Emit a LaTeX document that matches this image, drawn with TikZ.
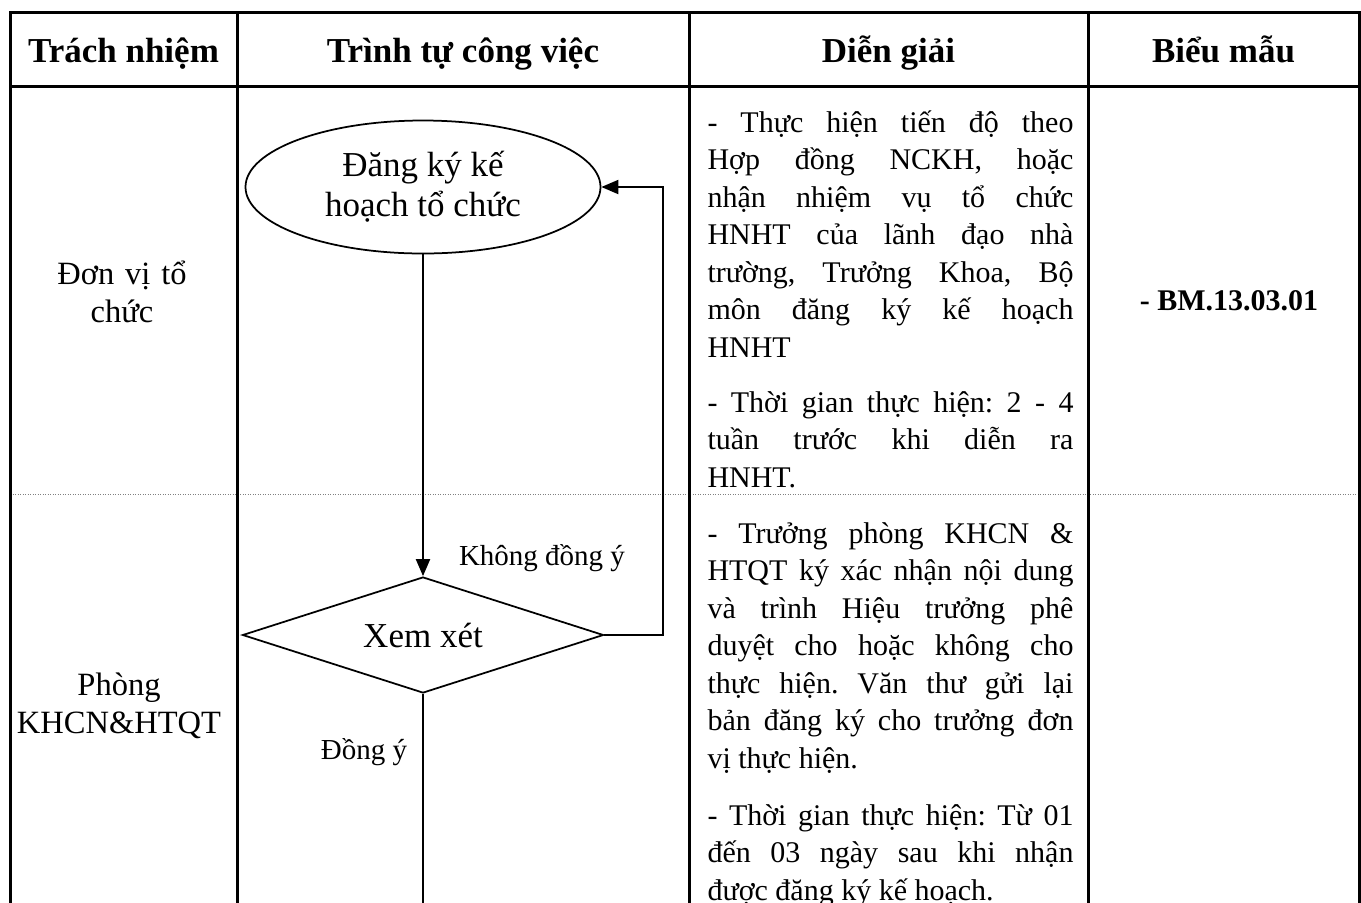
\documentclass[tikz,border=0pt]{standalone}
\usepackage{fontspec}
\setmainfont{Liberation Serif}
\usetikzlibrary{shapes.geometric,arrows.meta}
\frenchspacing

\begin{document}
\begin{tikzpicture}[x=0.4pt,y=-0.4pt,
  khung/.style={line width=1.2pt},
  tieude/.style={font=\bfseries\fontsize{14}{16}\selectfont,anchor=base,inner sep=0pt},
  cot/.style={font=\fontsize{13}{15.5}\selectfont,text width=95pt,align=center,anchor=base,inner sep=0pt},
  giai/.style={font=\fontsize{12}{15}\selectfont,text width=146.4pt,align=justify,anchor=base west,inner sep=0pt},
  buoc/.style={draw,line width=0.7pt,font=\fontsize{14}{16}\selectfont,inner sep=0pt,align=center},
  nhan/.style={font=\fontsize{11.6}{13}\selectfont,anchor=base,inner sep=0pt},
  noi/.style={line width=0.8pt},
  mui/.style={noi,-{Triangle[length=6.8pt,width=5.6pt]}}]
\useasboundingbox (0,0) rectangle (1361,902);
\clip (0,0) rectangle (1361,902);
% bang
\draw[gray,line width=0.4pt,dash pattern=on 0.5pt off 0.5pt] (10,494) -- (1359,494);
\draw[khung] (10,905) -- (10,12) -- (1359,12) -- (1359,905);
\draw[khung] (10,86) -- (1359,86);
\foreach \x in {237,689,1088} \draw[khung] (\x,12) -- (\x,905);
% tieu de
\node[tieude] (tn) at (123.5,62) {Trách nhiệm};
\node[tieude] (tt) at (463,62) {Trình tự công việc};
\node[tieude] (dg) at (888.5,62) {Diễn giải};
\node[tieude] (bm) at (1223.5,62) {Biểu mẫu};
% trach nhiem
\node[cot] (dv) at (122,284) {Đơn vị tổ\\chức};
\node[cot] (pk) at (119,695) {Phòng\\KHCN\&HTQT};
% luu do
\node[buoc,ellipse,minimum width=142pt,minimum height=53.2pt] (dk) at (423,187) {Đăng ký kế\\hoạch tổ chức};
\node[buoc,diamond,aspect=3.1,minimum width=144.4pt,minimum height=46.4pt] (xx) at (423,635) {Xem xét};
\coordinate (vong) at (663,187);
\coordinate (xuong) at (423,910);
\draw[mui] (dk.south) -- (xx.north);
\draw[mui] (xx.east) -| (vong) -- (dk.east);
\draw[noi] (xx.south) -- (xuong);
\node[nhan] (kdy) at (542,565) {Không đồng ý};
\node[nhan] (dy) at (364,759) {Đồng ý};
% dien giai
\node[giai] (g1) at (707,132) {- Thực hiện tiến độ theo\linebreak Hợp đồng NCKH, hoặc\linebreak nhận nhiệm vụ tổ chức\linebreak HNHT của lãnh đạo nhà\linebreak trường, Trưởng Khoa, Bộ\linebreak môn đăng ký kế hoạch\linebreak HNHT};
\node[giai] (g2) at (707,412) {- Thời gian thực hiện: 2 - 4\linebreak tuần trước khi diễn ra\linebreak HNHT.};
\node[giai] (g3) at (707,543) {- Trưởng phòng KHCN \&\linebreak HTQT ký xác nhận nội dung\linebreak và trình Hiệu trưởng phê\linebreak duyệt cho hoặc không cho\linebreak thực hiện. Văn thư gửi lại\linebreak bản đăng ký cho trưởng đơn\linebreak vị thực hiện.};
\node[giai] (g4) at (707,825) {- Thời gian thực hiện: Từ 01\linebreak đến 03 ngày sau khi nhận\linebreak được đăng ký kế hoạch.};
% bieu mau
\node[tieude,font=\bfseries\fontsize{12}{15}\selectfont] (bm1) at (1229,310) {- BM.13.03.01};
\end{tikzpicture}
\end{document}
